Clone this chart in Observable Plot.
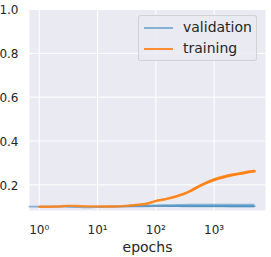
<!DOCTYPE html>
<html>
<head>
<meta charset="utf-8">
<script src="https://cdn.jsdelivr.net/npm/d3@7"></script>
<script src="https://cdn.jsdelivr.net/npm/@observablehq/plot@0.6"></script>
<style>
  html, body { margin: 0; padding: 0; background: #ffffff; }
  #wrap { position: relative; width: 271px; height: 257px; overflow: hidden; font-family: "DejaVu Sans", sans-serif; }
  #legend { position: absolute; left: 138px; top: 15px; width: 119px; height: 46px; box-sizing: border-box;
    background: rgba(234,234,242,0.8); border: 1px solid rgba(204,204,204,0.8); border-radius: 3px; }
  .row { position: absolute; left: 0; height: 20px; width: 100%; }
  .sw { position: absolute; left: 5px; width: 29px; height: 0; border-top-width: 2px; border-top-style: solid; }
  .lab { position: absolute; left: 44px; font-size: 14px; color: #262626; white-space: nowrap; line-height: 1; }
</style>
</head>
<body>
<div id="wrap"></div>
<script>
// x tick values and labels
const xTicks = [1, 10, 100, 1000];
const yTicks = [0.2, 0.4, 0.6, 0.8, 1.0];
const seriesNames = ["validation", "training"];
const seriesColors = ["#1f77b4", "#ff7f0e"];
const seriesOpacity = [0.5, 0.85];

// validation: epoch, centre value, half-height of the noisy band
const valEpochs = [0.68, 1, 2, 3, 5, 7, 10, 15, 20, 30, 50, 100, 200, 300, 500, 1000, 2000, 3000, 5000];
const valMid    = [0.101, 0.101, 0.101, 0.100, 0.098, 0.097, 0.099, 0.100, 0.100, 0.101, 0.102, 0.103, 0.103, 0.103, 0.103, 0.103, 0.103, 0.103, 0.103];
const valSpread = [0, 0, 0, 0, 0, 0, 0, 0.001, 0.002, 0.003, 0.004, 0.005, 0.006, 0.007, 0.008, 0.008, 0.009, 0.009, 0.009];

// training
const trEpochs = [1, 2, 3, 4, 5, 7, 10, 15, 20, 30, 50, 70, 100, 150, 200, 250, 300, 400, 500, 700, 1000, 1500, 2000, 3000, 4000, 5000];
const trMid    = [0.100, 0.101, 0.104, 0.104, 0.103, 0.102, 0.102, 0.101, 0.101, 0.104, 0.109, 0.114, 0.126, 0.135, 0.143, 0.151, 0.158, 0.172, 0.186, 0.206, 0.222, 0.235, 0.243, 0.252, 0.258, 0.262];
const trSpread = [0, 0, 0, 0, 0, 0, 0, 0, 0, 0, 0.001, 0.002, 0.003, 0.003, 0.004, 0.004, 0.004, 0.005, 0.005, 0.005, 0.006, 0.006, 0.006, 0.006, 0.006, 0.006];

const val = valEpochs.map((e, i) => ({e, v: valMid[i], lo: valMid[i] - valSpread[i], hi: valMid[i] + valSpread[i]}));
const tr = trEpochs.map((e, i) => ({e, v: trMid[i], lo: trMid[i] - trSpread[i], hi: trMid[i] + trSpread[i]}));

const sup = {"0": "\u2070", "1": "\u00b9", "2": "\u00b2", "3": "\u00b3", "4": "\u2074"};
const fmtX = d => "10" + String(Math.round(Math.log10(d))).split("").map(c => sup[c]).join("");

const chart = Plot.plot({
  width: 271,
  height: 257,
  marginLeft: 29,
  marginRight: 6,
  marginTop: 9,
  marginBottom: 47,
  style: {background: "transparent", fontFamily: "DejaVu Sans, sans-serif", color: "#262626"},
  x: {type: "log", domain: [0.68, 7600]},
  y: {domain: [0.083, 1.0]},
  marks: [
    Plot.frame({fill: "#eaeaf2", stroke: null}),
    Plot.gridX(xTicks, {stroke: "#ffffff", strokeOpacity: 1, strokeWidth: 1}),
    Plot.gridY(yTicks, {stroke: "#ffffff", strokeOpacity: 1, strokeWidth: 1}),
    Plot.areaY(val, {x: "e", y1: "lo", y2: "hi", fill: seriesColors[0], fillOpacity: seriesOpacity[0], curve: "monotone-x"}),
    Plot.line(val, {x: "e", y: "v", stroke: seriesColors[0], strokeOpacity: seriesOpacity[0], strokeWidth: 1.8, curve: "monotone-x"}),
    Plot.areaY(tr, {x: "e", y1: "lo", y2: "hi", fill: seriesColors[1], fillOpacity: seriesOpacity[1], curve: "monotone-x"}),
    Plot.line(tr, {x: "e", y: "v", stroke: seriesColors[1], strokeOpacity: seriesOpacity[1], strokeWidth: 2.4, curve: "monotone-x"}),
    Plot.axisX({ticks: xTicks, tickFormat: fmtX, tickSize: 0, tickPadding: 15, fontSize: 12, label: null, fill: "#262626"}),
    Plot.axisX({ticks: [], label: "epochs", labelAnchor: "center", labelArrow: "none", labelOffset: 41, fontSize: 14, fill: "#262626"}),
    Plot.axisY({ticks: yTicks, tickFormat: d3.format(".1f"), tickSize: 0, tickPadding: 11, fontSize: 12, label: null, fill: "#262626", dy: 1})
  ]
});

const wrap = document.getElementById("wrap");
wrap.appendChild(chart);

const legend = document.createElement("div");
legend.id = "legend";
seriesNames.forEach((name, i) => {
  const row = document.createElement("div");
  row.className = "row";
  row.style.top = (i * 21 + 1) + "px";
  const sw = document.createElement("div");
  sw.className = "sw";
  sw.style.top = "10px";
  sw.style.borderTopColor = seriesColors[i];
  sw.style.opacity = seriesOpacity[i];
  const lab = document.createElement("div");
  lab.className = "lab";
  lab.style.top = "3px";
  lab.textContent = name;
  row.appendChild(sw);
  row.appendChild(lab);
  legend.appendChild(row);
});
wrap.appendChild(legend);
</script>
</body>
</html>
